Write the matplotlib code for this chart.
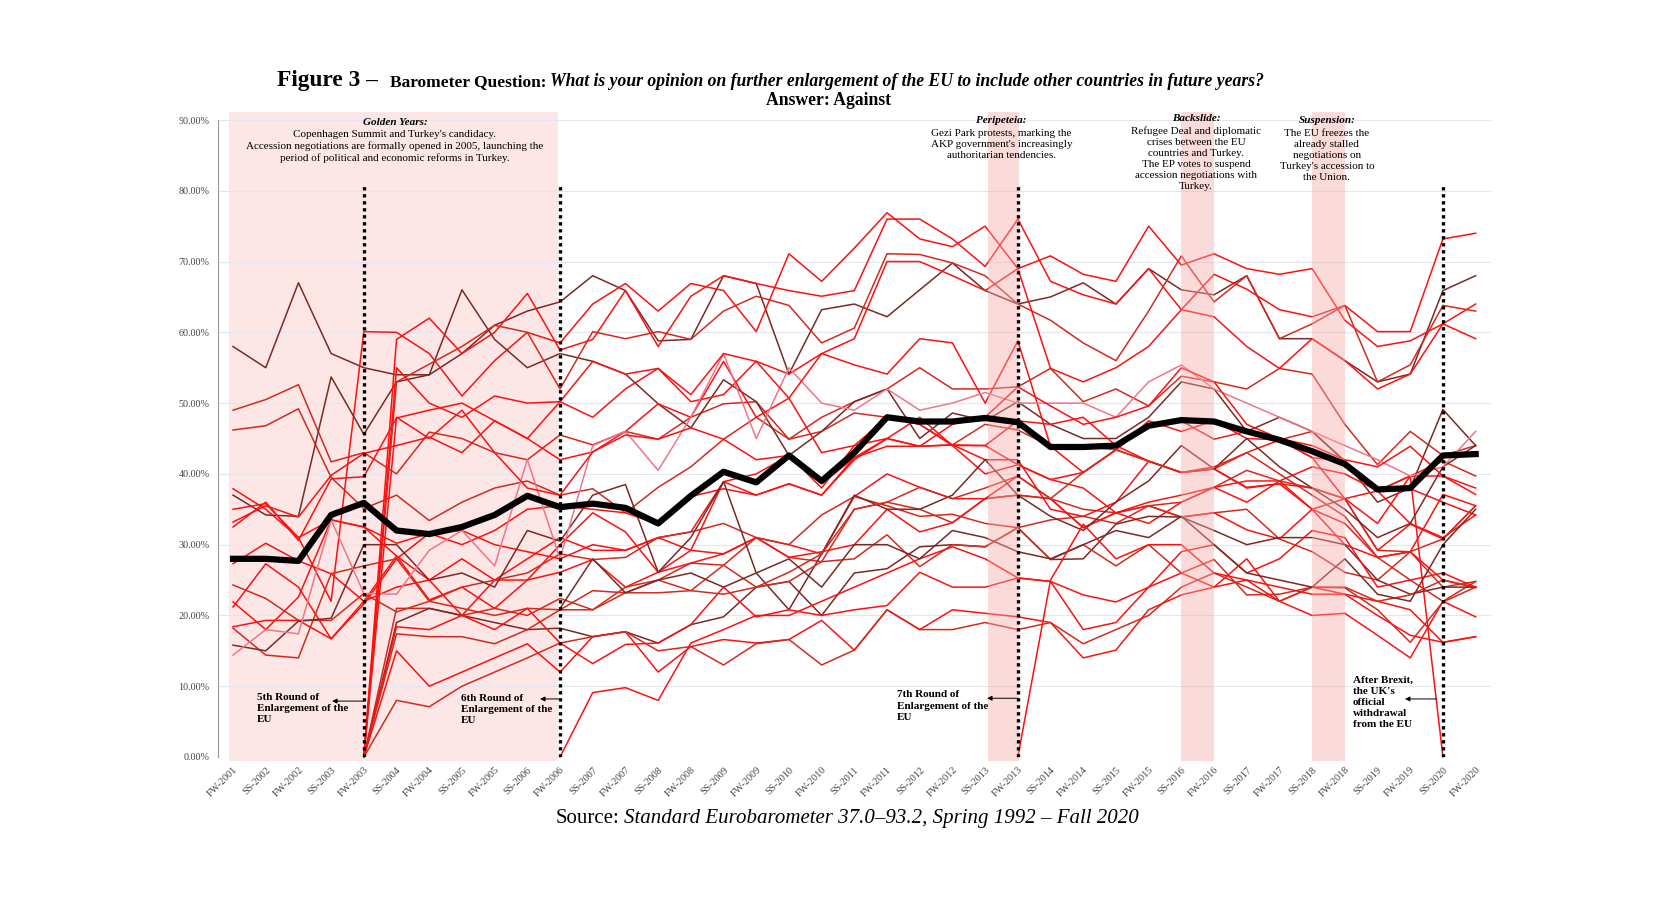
import numpy as np
import matplotlib.pyplot as plt

periods = ['FW-2001', 'SS-2002', 'FW-2002', 'SS-2003', 'FW-2003', 'SS-2004', 'FW-2004',
           'SS-2005', 'FW-2005', 'SS-2006', 'FW-2006', 'SS-2007', 'FW-2007', 'SS-2008',
           'FW-2008', 'SS-2009', 'FW-2009', 'SS-2010', 'FW-2010', 'SS-2011', 'FW-2011',
           'SS-2012', 'FW-2012', 'SS-2013', 'FW-2013', 'SS-2014', 'FW-2014', 'SS-2015',
           'FW-2015', 'SS-2016', 'FW-2016', 'SS-2017', 'FW-2017', 'SS-2018', 'FW-2018',
           'SS-2019', 'FW-2019', 'SS-2020', 'FW-2020']

# share answering "against" (%), one list per member state
old_01 = [58, 55, 67, 57, 55, 54, 54, 57, 61, 63, 64.3, 68, 65.9, 58.8, 59, 68, 66.9, 54.1, 63.2, 64, 62.2, 66, 69.8, 65.9, 64, 65, 67, 64, 69, 66, 65.3, 68, 59.1, 59.1, 56, 53, 54.1, 65.9, 68]
old_02 = [49, 50.5, 52.6, 41.7, 43, 40, 45.9, 45, 43, 42, 45.5, 44.1, 46, 44.9, 48, 49.9, 50.2, 44.9, 48, 50.2, 52, 55, 52, 52, 52.3, 54.9, 50.2, 52, 49.6, 53.8, 53, 52, 54.9, 54.1, 47, 41.3, 46, 42.6, 44]
old_03 = [46.2, 46.8, 49.2, 39.5, 35.1, 37, 33.4, 36, 38, 39, 37, 37.9, 34.5, 38.1, 41, 44.9, 48, 44.9, 46, 48.6, 48, 47, 44.1, 47, 46.2, 43.9, 43.9, 43.4, 47, 47.5, 44.9, 46, 44.8, 46, 41.8, 37.6, 39.7, 41.8, 39.7]
old_04 = [37.9, 35, 31, 22, 60.1, 60, 57, 51, 56, 60, 58.5, 64, 66.9, 63, 66.9, 65.9, 60.1, 71.1, 67.2, 71.9, 76.9, 73.2, 72.1, 75, 69, 70.8, 68.2, 67.2, 75, 69.5, 71.1, 69, 68.2, 69, 61.7, 58, 58.8, 61.2, 64]
old_05 = [37, 34.2, 34, 53.7, 45.6, 53, 54, 66, 59, 55, 57, 55.9, 54.1, 49.9, 46.5, 53.3, 50.2, 42.6, 46, 50.2, 52, 45, 48.6, 47.5, 50.2, 47, 45, 45, 48, 53, 52, 46, 48, 46, 41.8, 36, 38, 49.1, 44]
old_uk = [35, 35.8, 31, 33.5, 32.5, 30.2, 31.6, 32, 30, 29, 28, 30, 29.2, 31, 31.8, 38.9, 37, 38.6, 37, 42, 45, 48, 44, 40, 41.3, 39.2, 40.2, 43.4, 41.8, 40.2, 40.7, 38, 38.6, 38, 36.5, 33, 39.7, 0, None]
old_07 = [33.2, 35.5, 33.9, 39.8, 42.9, 44, 45.2, 43, 47.5, 45, 50.2, 48, 52, 54.9, 50.2, 51.2, 55.9, 54.1, 57, 55.4, 54.1, 59.1, 58.5, 50, 58.8, 43.9, 40.2, 43.4, 47.5, 46, 47.5, 45, 44.8, 42.3, 36.5, 37.6, 37.9, 36, 34.2]
old_08 = [32.5, 36, 30.6, 39.3, 39.6, 47.9, 49, 50, 47.5, 45, 42, 43.1, 46, 49.9, 48, 55.9, 48, 50.7, 43, 44, 45, 43.9, 44.1, 44, 47.5, 47, 48, 44, 41.8, 40.2, 40.7, 38.1, 38.6, 35, 30, 28.2, 29, 37.1, 35.5]
old_09 = [27.3, 30.2, 27.7, 25.9, 22, 28.4, 25, 28, 25, 25, 26.1, 27.9, 24, 26.1, 29.2, 28.7, 31, 30, 28.7, 36.8, 40, 38.1, 36.5, 36.5, 37, 36.5, 32.4, 34.5, 35.5, 33.9, 34.5, 32.1, 30.8, 35, 36.5, 29.2, 32.9, 30.8, 35.5]
old_10 = [24.3, 22.4, 19.3, 19.3, 23.1, 20.5, 22, 21, 20, 21, 20.8, 20.8, 23.2, 25, 27.4, 27.1, 31, 28.2, 27.6, 35, 36, 35, 33.1, 36.5, 37, 36.5, 35, 34.5, 35.5, 33.9, 34.5, 35, 30.8, 29, 26.1, 25, 29, 24, 24.8]
old_11 = [21.9, 18, 22.6, 33.5, 32.5, 28.4, 22.2, 24, 21, 25, 30, 34.5, 31.8, 26.1, 27.4, 28.7, 31, 28.2, 29, 30, 35, 31.8, 33.1, 36.5, 39.7, 36.5, 32.4, 34.5, 33, 36, 38.1, 39, 39, 35, 33, 28.2, 29, 25, 23.9]
old_12 = [21.2, 27.3, 24, 16.7, 22, 24, 25, 20, 25, 28, 31, 29.2, 29.2, 31, 29.2, 38.9, 40, 42.6, 38, 44, 48, 47, 44, 44, 41.3, 39.2, 38, 34.5, 36, 37, 38.1, 36, 39, 41, 40, 37.6, 39.7, 39.7, 37.1]
old_13 = [18.4, 19.3, 19.3, 16.7, 21.6, 28, 31.6, 30, 32, 35, 35.5, 35, 34.5, 32.9, 36.8, 37.9, 37, 38.6, 37, 42.3, 43.9, 43.9, 44.1, 42, 42, 35, 34, 36, 41.8, 40.2, 40.7, 43, 44.8, 42.3, 41.8, 37.6, 33, 31, 34.2]
old_14 = [18.2, 14.4, 14, 25.9, 27, 28, 22, 24, 25, 26, 28.7, 27.9, 28.2, 31, 31.8, 33, 31, 30, 34.2, 36.8, 35.5, 34, 34.3, 33, 32.4, 33.5, 34, 33, 35.5, 36, 38.1, 40.5, 39, 38, 36.5, 29.2, 29, 30.8, 35.5]
old_15 = [15.8, 15, 19.2, 19.6, 30, 30, 25, 26, 24, 32, 30.5, 37, 38.5, 26.1, 31, 38.9, 26, 20.8, 28.7, 37, 35, 35, 37, 42, 37, 34, 32, 36, 39, 44, 40.7, 45, 41, 38, 35, 31, 33, 41, 44]
old_16 = [14.4, 18, 17.4, 33.5, 23.1, 23, 29.2, 32, 27, 42, 28, 44, 46, 40.5, 48, 57, 45, 55, 50, 49, 52, 49, 50, 51.5, 50, 50, 50, 48, 53, 55.4, 52, 50, 48, 46, 44, 42, 39.7, 41, 46]

new_01 = [None] * 4 + [0, 59, 62, 57, 60, 65.5, 57.5, 59, 65.9, 58, 65.1, 68, 66.9, 65.9, 65.1, 65.9, 76, 76, 73.2, 69.3, 76, 67.2, 65.3, 64, 69, 63.2, 68.2, 66.1, 63.2, 62.2, 63.8, 60.1, 60.1, 73.2, 74]
new_02 = [None] * 4 + [0, 53, 55.5, 58, 61, 60, 52, 60.1, 59.1, 60.1, 59, 63, 65.1, 63.8, 58.5, 60.6, 71.1, 71, 69.8, 68, 64, 61.7, 58.5, 56, 63, 70.8, 64.3, 68, 59.1, 61.2, 63.8, 53, 55.4, 63.8, 63]
new_03 = [None] * 4 + [0, 55, 50, 48, 51, 50, 50.2, 55.9, 54.1, 54.9, 51.2, 57, 55.9, 50.7, 57, 59.1, 70, 70, 68, 65.9, 69, 54.9, 53, 55, 58, 63.2, 62.2, 58, 54.9, 59.1, 56, 52, 54.1, 61.2, 59.1]
new_04 = [None] * 4 + [0, 48, 45, 49, 43, 38, 37, 43.1, 45.5, 44.9, 46.5, 44.9, 42, 42.6, 38.6, 42.3, 45, 43.9, 47, 48, 52.3, 49.6, 47, 48, 49.6, 55, 53, 47, 45, 44, 42, 41, 43.9, 39.7, 38]
new_05 = [None] * 4 + [0, 21, 21, 20, 21, 20, 22.4, 20.8, 24, 25, 23.5, 27.1, 24, 26.1, 28.7, 35, 36, 38.1, 36.5, 38, 39.7, 36.5, 40.2, 43.4, 41.8, 40.2, 41, 43, 40, 37, 34, 28.2, 25, 22, 24.8]
new_06 = [None] * 4 + [0, 19, 21, 20, 19, 18, 18.2, 17, 17.7, 16.1, 18.7, 19.8, 24, 24.8, 20, 26, 26.6, 29.7, 30, 29.7, 32.4, 27.9, 28, 32.9, 34, 33.9, 32, 30, 31, 31, 30, 25, 23, 24, 24]
new_07 = [None] * 4 + [0, 18.4, 18, 20, 18, 21, 16.1, 13.2, 15.9, 16.1, 18.7, 24, 19.8, 20.8, 20, 20.8, 21.4, 26.1, 24, 24, 25.3, 24.8, 22.9, 21.9, 24, 26, 24, 28, 22, 24, 23, 22, 20.8, 16.2, 17]
new_08 = [None] * 4 + [0, 17.4, 17, 17, 16, 18, 20.8, 23.5, 23.2, 23.2, 23.5, 23, 24, 24.8, 27.6, 28, 31.4, 26.9, 30, 29.7, 32.4, 27.9, 30, 27, 30, 26, 27.9, 22.9, 23, 24, 24, 22, 22.9, 25, 24]
new_09 = [None] * 4 + [0, 15, 10, 12, 14, 16, 12, 17, 17.7, 12, 15.6, 16.6, 16.1, 16.6, 19.3, 15.1, 20.8, 18, 20.8, 20.3, 19.8, 19, 14, 15.1, 20.8, 22.9, 24, 25, 22, 20, 20.3, 17.2, 14, 22, 19.8]
new_10 = [None] * 4 + [0, 8, 7.1, 10, 12, 14, 16.1, 17, 17.7, 15, 15.6, 13, 16, 16.6, 13, 15.1, 20.8, 18, 18, 19, 18, 19, 16, 18, 20, 24, 26, 24, 22, 24, 23.9, 20.8, 16.2, 21.9, 24]
bg_ro_1 = [None] * 10 + [0, 9.1, 9.8, 8, 16.1, 18, 20, 20, 22, 24, 26, 28, 29.7, 28, 25.3, 24.8, 18, 19, 24, 29, 30, 26, 28, 32, 31, 24, 25, 26, 24]
bg_ro_2 = [None] * 10 + [21, 28, 23.2, 25, 26, 24, 26, 28, 24, 30, 30, 28, 32, 31, 29, 28, 30, 32, 31, 34, 30, 26, 25, 24, 28, 23, 22, 30, 35]
croatia = [None] * 24 + [0, 25, 32.9, 28, 30, 30, 26, 25, 24, 23, 23, 20, 17.2, 16.2, 17]

eu_average = [28, 28, 27.7, 34.2, 35.9, 32, 31.5, 32.5, 34.2, 36.9, 35.3, 35.8, 35.2, 33, 36.9, 40.3, 38.8, 42.6, 39, 43, 48, 47.4, 47.4, 47.9, 47.3, 43.8, 43.8, 44, 46.8, 47.6, 47.4, 46, 44.8, 43.2, 41.4, 37.8, 38, 42.6, 42.8]

RED, CRIM, BROWN, PINK = '#ff1010', '#d42a1e', '#7a2a24', '#f27489'
countries = [
    (old_01, BROWN), (old_02, CRIM), (old_03, CRIM), (old_04, RED), (old_05, BROWN),
    (old_uk, RED), (old_07, RED), (old_08, RED), (old_09, RED), (old_10, CRIM),
    (old_11, RED), (old_12, RED), (old_13, RED), (old_14, CRIM), (old_15, BROWN),
    (old_16, PINK), (new_01, RED), (new_02, CRIM), (new_03, RED), (new_04, RED),
    (new_05, CRIM), (new_06, BROWN), (new_07, RED), (new_08, CRIM), (new_09, RED),
    (new_10, CRIM), (bg_ro_1, RED), (bg_ro_2, BROWN), (croatia, RED),
]

SERIF = 'Liberation Serif'
W, H = 1670, 900
fig = plt.figure(figsize=(W / 100, H / 100), dpi=100)
ax = fig.add_axes([218 / W, 1 - 757 / H, (1491 - 218) / W, (757 - 120) / H])
x = np.arange(len(periods))

# shaded periods
ax.fill_between([-0.12, 9.95], -0.5, 91.1, color='#fde6e6', zorder=0.5, clip_on=False, lw=0)
for a, b in [(23.1, 24.05), (29.0, 30.0), (33.0, 34.0)]:
    ax.fill_between([a, b], -0.5, 91.1, color='#f7a8a8', alpha=0.42, zorder=3, clip_on=False, lw=0)

for vals, col in countries:
    ax.plot(x, np.array(vals, dtype=float), color=col, lw=1.1, zorder=2, clip_on=False)
ax.plot(x, eu_average, color='black', lw=4.5, zorder=5, solid_joinstyle='round')

for xi in [4, 10, 24, 37]:
    ax.plot([xi, xi], [0, 81], color='black', lw=2.4, ls=(0, (1, 1.1)), zorder=6)

ax.set_xlim(-0.46, 38.47)
ax.set_ylim(0, 90)
ax.set_yticks(np.arange(0, 91, 10))
ax.set_yticklabels([f'{v:.2f}%' for v in np.arange(0, 91, 10)], fontsize=7.3, family=SERIF, color='#444444')
ax.set_xticks(x)
ax.set_xticklabels(periods, rotation=45, ha='right', rotation_mode='anchor', fontsize=7.3, family=SERIF, color='#444444')
ax.tick_params(length=0, pad=6)
ax.grid(axis='y', color='#e3e6ee', lw=0.8, zorder=0)
ax.set_axisbelow(True)
for s in ['top', 'right', 'bottom']:
    ax.spines[s].set_visible(False)
ax.spines['left'].set_color('#999999')
ax.spines['left'].set_linewidth(0.8)
ax.patch.set_alpha(0)

# period headers
def header(xc, top, head, body):
    ax.text(xc, top, head, ha='center', va='top', fontsize=8, family=SERIF,
            fontweight='bold', fontstyle='italic', zorder=7)
    ax.text(xc, top - 1.75, body, ha='center', va='top', fontsize=8, family=SERIF,
            linespacing=1.28, zorder=7)

header(4.95, 90.3, 'Golden Years:', "Copenhagen Summit and Turkey's candidacy.\n"
       "Accession negotiations are formally opened in 2005, launching the\n"
       "period of political and economic reforms in Turkey.")
header(23.5, 90.5, 'Peripeteia:', "Gezi Park protests, marking the\n"
       "AKP government's increasingly\nauthoritarian tendencies.")
header(29.45, 90.8, 'Backslide:', "Refugee Deal and diplomatic\ncrises between the EU\n"
       "countries and Turkey.\nThe EP votes to suspend\naccession negotiations with\nTurkey.")
header(33.45, 90.5, 'Suspension:', "The EU freezes the\nalready stalled\nnegotiations on\n"
       "Turkey's accession to\nthe Union.")

# enlargement notes
notes = [(0.73, 9.0, '5th Round of\nEnlargement of the\nEU', 4, 3.03, 7.9),
         (6.97, 8.9, '6th Round of\nEnlargement of the\nEU', 10, 9.39, 8.2),
         (20.3, 9.4, '7th Round of\nEnlargement of the\nEU', 24, 23.06, 8.3),
         (34.25, 11.5, "After Brexit,\nthe UK's\nofficial\nwithdrawal\nfrom the EU", 36.8, 35.84, 8.2)]
for tx, ty, txt, a0, a1, ay in notes:
    ax.text(tx, ty, txt, ha='left', va='top', fontsize=8, family=SERIF, fontweight='bold',
            linespacing=1.3, zorder=7)
    ax.annotate('', xy=(a1, ay), xytext=(a0, ay), zorder=7,
                arrowprops=dict(arrowstyle='-|>', lw=0.7, color='black', mutation_scale=7,
                                shrinkA=0, shrinkB=0))

# title and source built from pieces
renderer = fig.canvas.get_renderer()

def row(parts, x_px, y_px):
    for s, fs, weight, style, gap in parts:
        t = fig.text(x_px / W, 1 - y_px / H, s, fontsize=fs, fontweight=weight,
                     fontstyle=style, family=SERIF, va='baseline', ha='left')
        x_px += t.get_window_extent(renderer).width + gap

row([('Figure 3 –', 16.8, 'bold', 'normal', 12),
     ('Barometer Question:', 12.5, 'bold', 'normal', 4),
     ('What is your opinion on further enlargement of the EU to include other countries in future years?',
      12.7, 'bold', 'italic', 0)], 277, 86)
fig.text(829 / W, 1 - 105 / H, 'Answer: Against', fontsize=12.7, fontweight='bold',
         family=SERIF, ha='center', va='baseline')

src1 = fig.text(0, 0, 'Source:', fontsize=15, family=SERIF)
src2 = fig.text(0, 0, 'Standard Eurobarometer 37.0–93.2, Spring 1992 – Fall 2020', fontsize=15,
                family=SERIF, fontstyle='italic')
w1 = src1.get_window_extent(renderer).width
w2 = src2.get_window_extent(renderer).width
gap = 5
x0 = 847 - (w1 + gap + w2) / 2
src1.set_position((x0 / W, 1 - 823 / H))
src2.set_position(((x0 + w1 + gap) / W, 1 - 823 / H))

plt.savefig('out.png', dpi=100)
